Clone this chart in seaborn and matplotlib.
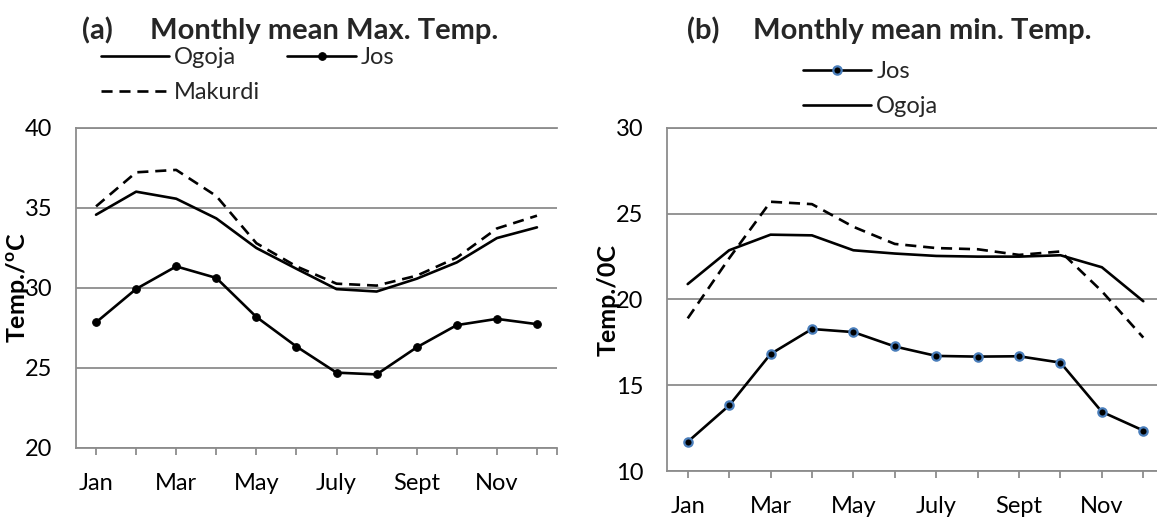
import numpy as np
import pandas as pd
import matplotlib
matplotlib.use("Agg")
import matplotlib.pyplot as plt
import seaborn as sns

# ---------------- data ----------------
months = ["Jan", "Feb", "Mar", "Apr", "May", "Jun", "Jul", "Aug", "Sep", "Oct", "Nov", "Dec"]
tick_labels = ["Jan", "", "Mar", "", "May", "", "July", "", "Sept", "", "Nov", ""]

max_ogoja = [34.58, 36.02, 35.58, 34.35, 32.50, 31.20, 29.93, 29.78, 30.58, 31.60, 33.12, 33.79]
max_makurdi = [35.10, 37.23, 37.38, 35.75, 32.80, 31.35, 30.27, 30.15, 30.77, 31.90, 33.72, 34.52]
max_jos = [27.85, 29.94, 31.35, 30.63, 28.19, 26.34, 24.71, 24.60, 26.29, 27.68, 28.07, 27.74]

min_jos = [11.70, 13.82, 16.82, 18.28, 18.10, 17.26, 16.71, 16.67, 16.69, 16.32, 13.45, 12.36]
min_ogoja = [20.90, 22.87, 23.78, 23.74, 22.87, 22.68, 22.54, 22.50, 22.50, 22.58, 21.88, 19.90]
min_makurdi = [18.90, 22.40, 25.70, 25.56, 24.24, 23.24, 23.00, 22.93, 22.60, 22.80, 20.48, 17.78]

# ---------------- style ----------------
sns.set_theme(style="white")
plt.rcParams["font.family"] = ["Lato", "DejaVu Sans"]
plt.rcParams["mathtext.fontset"] = "custom"
plt.rcParams["mathtext.rm"] = "Lato"
plt.rcParams["mathtext.bf"] = "Lato:bold"

W, H = 1157, 519
fig = plt.figure(figsize=(W / 100, H / 100), dpi=100)
fig.patch.set_facecolor("white")

GRID = "#8c8c8c"
LW = 1.9
DASH = (0, (4.2, 2.6))
TICK_FS = 17
LEG_FS = 17


def px_axes(x0, x1, ytop, ybot):
    return fig.add_axes([x0 / W, 1 - ybot / H, (x1 - x0) / W, (ybot - ytop) / H])


def style_axes(ax, ylo, yhi, ylabel, lab_x):
    x = np.arange(len(months))
    ax.set_xlim(-0.5, 11.5)
    ax.set_ylim(ylo, yhi)
    ax.set_yticks(np.arange(ylo, yhi + 1, 5))
    ax.set_xticks(x)
    ax.set_xticklabels(tick_labels)
    ax.set_xticks([11.5], minor=True)
    ax.grid(axis="y", color=GRID, lw=1.3)
    ax.grid(axis="x", visible=False)
    ax.set_axisbelow(True)
    for s in ["left", "bottom", "top"]:
        ax.spines[s].set_color(GRID)
        ax.spines[s].set_linewidth(1.3)
    ax.spines["right"].set_visible(False)
    ax.tick_params(axis="y", length=0, pad=17, labelsize=TICK_FS, labelcolor="black")
    ax.tick_params(axis="x", which="both", length=5, width=1.3, color=GRID, direction="out",
                   bottom=True, pad=13, labelsize=TICK_FS, labelcolor="black")
    ax.set_xlabel("")
    ax.set_ylabel(ylabel, fontsize=18, fontweight="bold", color="black")
    ax.yaxis.set_label_coords(lab_x, 0.5)


x = np.arange(len(months))

# ---------------- panel (a) ----------------
ax1 = px_axes(76, 557, 128, 448)
df_a = pd.DataFrame({"m": x, "Ogoja": max_ogoja, "Makurdi": max_makurdi, "Jos": max_jos})
sns.lineplot(data=df_a, x="m", y="Makurdi", ax=ax1, color="black", lw=LW, linestyle=DASH,
             label="Makurdi", legend=False)
sns.lineplot(data=df_a, x="m", y="Ogoja", ax=ax1, color="black", lw=LW, label="Ogoja", legend=False)
sns.lineplot(data=df_a, x="m", y="Jos", ax=ax1, color="black", lw=LW, marker="o", markersize=5.5,
             markeredgecolor="black", label="Jos", legend=False)
style_axes(ax1, 20, 40, "Temp./$\\mathbf{^o}$C", -0.0936)
if ax1.get_legend():
    ax1.get_legend().remove()

h, l = ax1.get_legend_handles_labels()
hd = dict(zip(l, h))
fig.legend([hd["Ogoja"], hd["Makurdi"], hd["Jos"]], ["Ogoja", "Makurdi", "Jos"],
           ncol=2, loc="upper left", bbox_to_anchor=(101 / W, 1 - 47 / H),
           frameon=False, fontsize=LEG_FS, handlelength=2.9, handletextpad=0.2,
           columnspacing=1.15, labelspacing=0.6, borderpad=0, borderaxespad=0)

fig.text(82 / W, 1 - 31 / H, "(a)", fontsize=21, fontweight="bold", ha="left", va="center")
fig.text(150 / W, 1 - 31 / H, "Monthly mean Max. Temp.", fontsize=21, fontweight="bold",
         ha="left", va="center")

# ---------------- panel (b) ----------------
ax2 = px_axes(667, 1164, 128, 471)
df_b = pd.DataFrame({"m": x, "Jos": min_jos, "Ogoja": min_ogoja, "Makurdi": min_makurdi})
sns.lineplot(data=df_b, x="m", y="Makurdi", ax=ax2, color="black", lw=LW, linestyle=DASH,
             label="_nolegend_", legend=False)
sns.lineplot(data=df_b, x="m", y="Ogoja", ax=ax2, color="black", lw=LW, label="Ogoja", legend=False)
sns.lineplot(data=df_b, x="m", y="Jos", ax=ax2, color="black", lw=LW, marker="o", markersize=6,
             markerfacecolor="black", markeredgecolor="#4a7ebb", markeredgewidth=1.6,
             label="Jos", legend=False)
style_axes(ax2, 10, 30, "Temp./0C", -0.0946)
if ax2.get_legend():
    ax2.get_legend().remove()

h, l = ax2.get_legend_handles_labels()
hd = dict(zip(l, h))
fig.legend([hd["Jos"], hd["Ogoja"]], ["Jos", "Ogoja"],
           ncol=1, loc="upper left", bbox_to_anchor=(803 / W, 1 - 61 / H),
           frameon=False, fontsize=LEG_FS, handlelength=2.9, handletextpad=0.2,
           labelspacing=0.6, borderpad=0, borderaxespad=0)

fig.text(687 / W, 1 - 31 / H, "(b)", fontsize=21, fontweight="bold", ha="left", va="center")
fig.text(753 / W, 1 - 31 / H, "Monthly mean min. Temp.", fontsize=21, fontweight="bold",
         ha="left", va="center")

fig.savefig("out.png", dpi=100, facecolor="white")
